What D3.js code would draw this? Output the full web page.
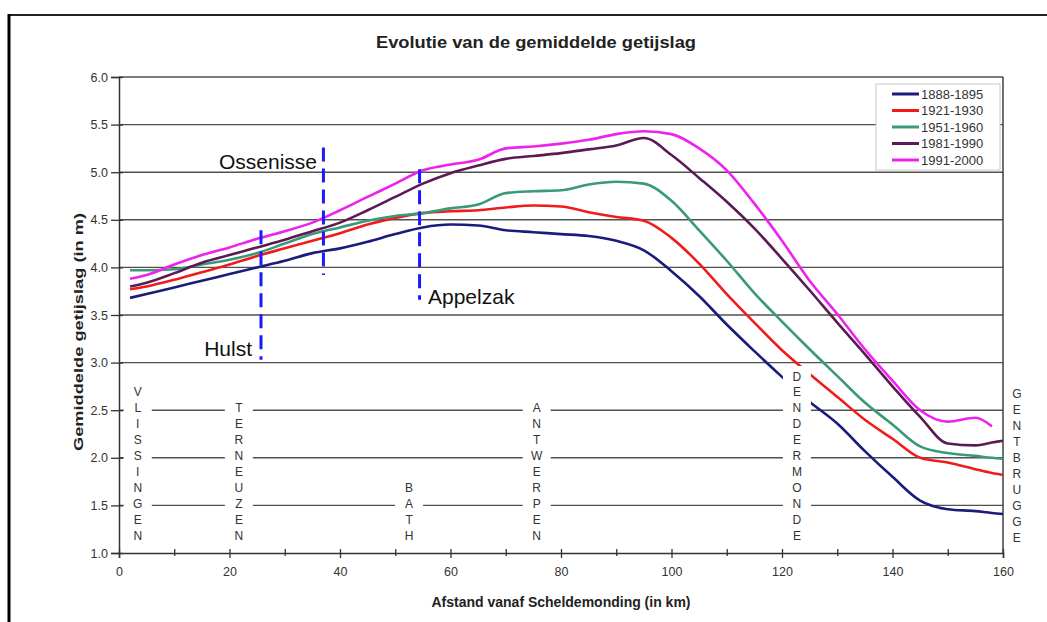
<!DOCTYPE html>
<html>
<head>
<meta charset="utf-8">
<script src="https://d3js.org/d3.v7.min.js"></script>
<style>
  body { margin: 0; background: #fff; }
  text { font-family: "Liberation Sans", Arial, sans-serif; }
</style>
</head>
<body>
<script>

// afstand (km) en gemiddelde getijslag (m) per periode
const km      = [2, 5, 10, 15, 20, 25, 30, 35, 40, 45, 50, 55, 60, 65, 70, 75, 80, 85, 90, 95, 100, 105, 110, 115, 120, 125, 130, 135, 140, 145, 150, 155, 158, 160];
const v1888   = [3.68, 3.72, 3.79, 3.86, 3.93, 4.00, 4.07, 4.15, 4.20, 4.27, 4.35, 4.42, 4.45, 4.44, 4.39, 4.37, 4.35, 4.33, 4.28, 4.18, 3.96, 3.70, 3.40, 3.12, 2.85, 2.59, 2.36, 2.07, 1.80, 1.55, 1.46, 1.44, 1.42, 1.41];
const v1921   = [3.77, 3.80, 3.87, 3.95, 4.03, 4.12, 4.20, 4.28, 4.36, 4.45, 4.52, 4.57, 4.59, 4.60, 4.63, 4.65, 4.64, 4.58, 4.53, 4.49, 4.31, 4.04, 3.72, 3.42, 3.13, 2.88, 2.64, 2.40, 2.20, 2.00, 1.95, 1.88, 1.84, 1.82];
const v1951   = [3.97, 3.97, 3.98, 4.03, 4.08, 4.15, 4.25, 4.35, 4.42, 4.49, 4.54, 4.57, 4.62, 4.66, 4.78, 4.80, 4.81, 4.87, 4.90, 4.88, 4.70, 4.39, 4.07, 3.73, 3.43, 3.14, 2.86, 2.58, 2.35, 2.12, 2.05, 2.02, 2.00, 1.99];
const v1981   = [3.80, 3.84, 3.94, 4.05, 4.13, 4.21, 4.29, 4.38, 4.47, 4.60, 4.74, 4.88, 4.99, 5.07, 5.14, 5.17, 5.20, 5.24, 5.28, 5.36, 5.18, 4.94, 4.69, 4.41, 4.09, 3.76, 3.42, 3.09, 2.75, 2.43, 2.15, 2.13, 2.16, 2.18];
const v1991   = [3.88, 3.92, 4.03, 4.13, 4.21, 4.30, 4.38, 4.47, 4.60, 4.74, 4.88, 5.02, 5.08, 5.13, 5.25, 5.27, 5.30, 5.34, 5.40, 5.43, 5.40, 5.25, 5.02, 4.67, 4.28, 3.86, 3.51, 3.14, 2.81, 2.50, 2.38, 2.42, 2.33, null];

const periods = ["1888-1895", "1921-1930", "1951-1960", "1981-1990", "1991-2000"];
const colors  = ["#1b1b7e", "#f01c1c", "#3a9a78", "#5c1a55", "#ee22ee"];
const values  = [v1888, v1921, v1951, v1981, v1991];

// meetplaatsen langs de Schelde (km)
const stations   = ["VLISSINGEN", "TERNEUZEN", "BATH", "ANTWERPEN", "DENDERMONDE", "GENTBRUGGE"];
const stationKm  = [3.4, 21.7, 52.5, 75.6, 122.7, 162.5];

// blauwe streepjeslijnen: km, van, tot
const marks    = ["Hulst", "Ossenisse", "Appelzak"];
const markKm   = [25.7, 37.0, 54.4];
const markTop  = [4.39, 5.26, 5.03];
const markBot  = [3.03, 3.92, 3.66];

const yTicks = [1.0, 1.5, 2.0, 2.5, 3.0, 3.5, 4.0, 4.5, 5.0, 5.5, 6.0];
const xTicks = [0, 20, 40, 60, 80, 100, 120, 140, 160];

const width = 1047, height = 622;
const svg = d3.select("body").append("svg").attr("width", width).attr("height", height);

const x = d3.scaleLinear().domain([0, 160]).range([119, 1003]);
const y = d3.scaleLinear().domain([1, 6]).range([553, 77]);

// kader
svg.append("line").attr("x1", 9).attr("x2", width).attr("y1", 15).attr("y2", 15)
  .attr("stroke", "#222").attr("stroke-width", 2);
svg.append("line").attr("x1", 9).attr("x2", 9).attr("y1", 14).attr("y2", height)
  .attr("stroke", "#000").attr("stroke-width", 3);

// titel
svg.append("text").attr("x", 536).attr("y", 48).attr("text-anchor", "middle")
  .attr("textLength", 320).attr("lengthAdjust", "spacingAndGlyphs")
  .style("font-size", "17px").style("font-weight", "bold").attr("fill", "#222")
  .text("Evolutie van de gemiddelde getijslag");

// rasterlijnen
svg.append("g").selectAll("line").data(yTicks.slice(1)).enter().append("line")
  .attr("x1", x(0)).attr("x2", x(160))
  .attr("y1", d => y(d)).attr("y2", d => y(d))
  .attr("stroke", "#505050").attr("stroke-width", 1.4);

// rechterrand
svg.append("line").attr("x1", x(160)).attr("x2", x(160)).attr("y1", y(6)).attr("y2", y(1))
  .attr("stroke", "#333").attr("stroke-width", 1.4);

// lijnen
const line = d3.line()
  .defined(d => d[1] != null)
  .x(d => x(d[0])).y(d => y(d[1]))
  .curve(d3.curveMonotoneX);

values.forEach(function(v, i) {
  svg.append("path")
    .datum(km.map((k, j) => [k, v[j]]))
    .attr("d", line)
    .attr("fill", "none")
    .attr("stroke", colors[i])
    .attr("stroke-width", 2.6)
    .attr("stroke-linejoin", "round");
});

// verticale plaatsnamen (met witte achtergrond die de raster onderbreekt)
const letterStep = 15.9, lastY = 535;
stations.forEach(function(name, i) {
  const cx = x(stationKm[i]);
  const n = name.length;
  const top = lastY - (n - 1) * letterStep;
  if (stationKm[i] <= 160) {
    svg.append("rect").attr("x", cx - 14).attr("y", top - 10)
      .attr("width", 28).attr("height", (n - 1) * letterStep + 20)
      .attr("fill", "#fff");
  }
  const base = name === "GENTBRUGGE" ? lastY + 2 : lastY;
  name.split("").forEach(function(ch, j) {
    svg.append("text")
      .attr("x", cx).attr("y", base - (n - 1 - j) * letterStep + 4.5)
      .attr("text-anchor", "middle")
      .style("font-size", "12px").attr("fill", "#333")
      .text(ch);
  });
});

// assen
const yAxis = svg.append("g").attr("transform", "translate(" + x(0) + ",0)")
  .call(d3.axisLeft(y).tickValues(yTicks).tickFormat(d3.format(".1f")).tickSize(8).tickPadding(3));
const xAxis = svg.append("g").attr("transform", "translate(0," + y(1) + ")")
  .call(d3.axisBottom(x).tickValues(d3.range(0, 161, 10)).tickSize(5)
    .tickFormat(d => xTicks.includes(d) ? d : ""));
[yAxis, xAxis].forEach(function(a) {
  a.select(".domain").attr("stroke", "#333").attr("stroke-width", 1.5);
  a.selectAll(".tick line").attr("stroke", "#333").attr("stroke-width", 1.3);
  a.selectAll(".tick text").style("font-size", "12.5px").attr("fill", "#333");
});
yAxis.selectAll(".tick line").attr("x2", -8).attr("x1", 4);
xAxis.selectAll(".tick line").attr("y1", -4).attr("y2", d => xTicks.includes(d) ? 5 : 3);
xAxis.selectAll(".tick text").attr("y", 14);

// astitels
svg.append("text").attr("x", 561).attr("y", 607).attr("text-anchor", "middle")
  .style("font-size", "14px").style("font-weight", "bold").attr("fill", "#222")
  .text("Afstand vanaf Scheldemonding (in km)");
svg.append("text").attr("transform", "translate(78,332) rotate(-90)")
  .attr("text-anchor", "middle").attr("dy", "0.35em")
  .attr("textLength", 238).attr("lengthAdjust", "spacingAndGlyphs")
  .style("font-size", "13px").style("font-weight", "bold").attr("fill", "#222")
  .text("Gemiddelde getijslag (in m)");

// blauwe streepjeslijnen en namen
marks.forEach(function(m, i) {
  svg.append("line")
    .attr("x1", x(markKm[i])).attr("x2", x(markKm[i]))
    .attr("y1", y(markTop[i])).attr("y2", y(markBot[i]))
    .attr("stroke", "#1a1aff").attr("stroke-width", 3)
    .attr("stroke-dasharray", "14,7");
});
const labelPos = [[252, 356, "end"], [317, 169, "end"], [428, 304, "start"]];
marks.forEach(function(m, i) {
  svg.append("text").attr("x", labelPos[i][0]).attr("y", labelPos[i][1])
    .attr("text-anchor", labelPos[i][2])
    .style("font-size", "21px").attr("fill", "#111")
    .text(m);
});

// legende
const lg = svg.append("g");
lg.append("rect").attr("x", 876).attr("y", 84).attr("width", 124).attr("height", 86)
  .attr("fill", "#fff").attr("stroke", "#c8c8c8").attr("stroke-width", 1);
periods.forEach(function(p, i) {
  const ly = 94 + i * 16.5;
  lg.append("line").attr("x1", 892).attr("x2", 919).attr("y1", ly).attr("y2", ly)
    .attr("stroke", colors[i]).attr("stroke-width", 3);
  lg.append("text").attr("x", 921).attr("y", ly).attr("dy", "0.36em")
    .style("font-size", "13px").attr("fill", "#333").text(p);
});

</script>
</body>
</html>
